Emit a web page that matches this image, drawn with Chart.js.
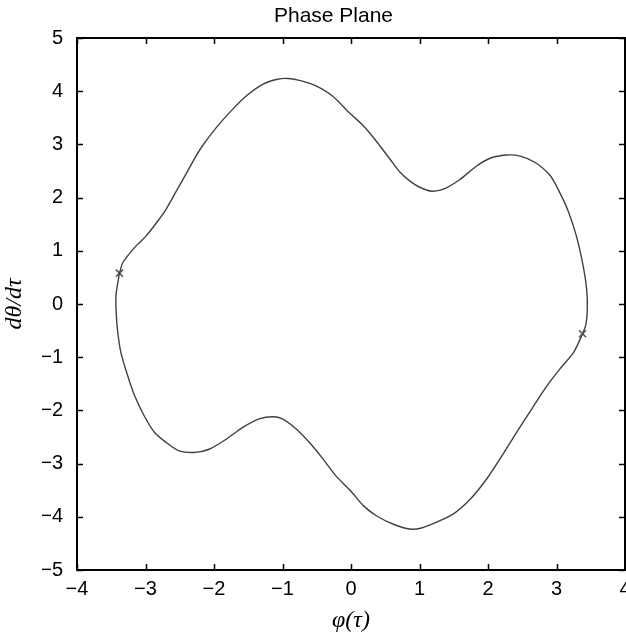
<!DOCTYPE html>
<html><head><meta charset="utf-8">
<script src="https://cdn.jsdelivr.net/npm/chart.js@4.4.0/dist/chart.umd.min.js"></script>
<style>html,body{margin:0;padding:0;background:#fff;}#wrap{width:626px;height:638px;}</style>
</head><body><div id="wrap"><canvas id="c" width="626" height="638"></canvas></div>
<script>
const chartTitle = 'Phase Plane';
const xAxisTitle = 'φ(τ)';
const yAxisTitle = 'dθ/dτ';
const xTicks = [-4, -3, -2, -1, 0, 1, 2, 3, 4];
const yTicks = [-5, -4, -3, -2, -1, 0, 1, 2, 3, 4, 5];
const phi = [-3.38, -3.33, -3.16, -2.99, -2.82, -2.70, -2.55, -2.41, -2.29, -2.17, -1.97, -1.75, -1.53, -1.29, -1.09, -0.92, -0.71, -0.51, -0.27, -0.02,
  0.18, 0.37, 0.57, 0.72, 0.86, 1.01, 1.18, 1.37, 1.59, 1.83, 2.03, 2.27, 2.47, 2.69, 2.91, 3.05, 3.17, 3.29, 3.39, 3.44, 3.45, 3.43,
  3.38, 3.25, 3.05, 2.86, 2.64, 2.42, 2.22, 1.98, 1.74, 1.49, 1.25, 1.03, 0.86, 0.62, 0.37, 0.18, 0.00, -0.22, -0.41, -0.61, -0.80, -1.00,
  -1.14, -1.34, -1.58, -1.82, -2.07, -2.29, -2.51, -2.70, -2.87, -3.02, -3.16, -3.26, -3.36, -3.41, -3.43, -3.43, -3.38];
const dtheta = [0.58, 0.78, 1.06, 1.28, 1.56, 1.78, 2.12, 2.44, 2.72, 2.97, 3.31, 3.63, 3.91, 4.13, 4.22, 4.24, 4.19, 4.10, 3.91, 3.59,
  3.35, 3.06, 2.72, 2.47, 2.31, 2.19, 2.12, 2.17, 2.34, 2.59, 2.74, 2.80, 2.78, 2.66, 2.41, 2.09, 1.75, 1.28, 0.71, 0.28, -0.09, -0.38,
  -0.56, -0.91, -1.22, -1.54, -1.97, -2.41, -2.82, -3.29, -3.67, -3.95, -4.10, -4.21, -4.23, -4.14, -3.98, -3.79, -3.52, -3.23, -2.91, -2.60, -2.35, -2.16,
  -2.12, -2.16, -2.32, -2.54, -2.73, -2.79, -2.76, -2.60, -2.41, -2.10, -1.72, -1.35, -0.91, -0.47, -0.09, 0.18, 0.58];
const markerPhi = [-3.38, 3.38];
const markerDtheta = [0.58, -0.56];

const fmt = v => String(v).replace('-', '\u2212');
const sans = "'Liberation Sans', Arial, sans-serif";
const serif = "'Liberation Serif', 'DejaVu Serif', serif";
const tickFont = {family: sans, size: 20};

const framePlugin = {
  id: 'frame',
  afterDatasetsDraw(chart) {
    const {ctx, chartArea: a, scales: {x, y}} = chart;
    ctx.save();
    ctx.strokeStyle = '#000';
    ctx.lineWidth = 1.5;
    const L = 6;
    ctx.beginPath();
    x.ticks.forEach(t => {
      const p = Math.round(x.getPixelForValue(t.value)) + 0.5;
      ctx.moveTo(p, a.bottom); ctx.lineTo(p, a.bottom - L);
      ctx.moveTo(p, a.top); ctx.lineTo(p, a.top + L);
    });
    y.ticks.forEach(t => {
      const p = Math.round(y.getPixelForValue(t.value)) + 0.5;
      ctx.moveTo(a.left, p); ctx.lineTo(a.left + L, p);
      ctx.moveTo(a.right, p); ctx.lineTo(a.right - L, p);
    });
    ctx.stroke();
    ctx.lineWidth = 2;
    ctx.strokeRect(a.left, a.top, a.right - a.left, a.bottom - a.top);
    ctx.restore();
  }
};

new Chart(document.getElementById('c'), {
  type: 'scatter',
  data: {
    datasets: [
      {
        data: phi.map((v, i) => ({x: v, y: dtheta[i]})),
        showLine: true, fill: false, pointRadius: 0, borderColor: '#404040', borderWidth: 1.4, tension: 0.25
      },
      {
        data: markerPhi.map((v, i) => ({x: v, y: markerDtheta[i]})),
        showLine: false, pointStyle: 'crossRot', pointRadius: 5, borderColor: '#555', borderWidth: 1.5
      }
    ]
  },
  options: {
    responsive: false, animation: false, devicePixelRatio: 1,
    layout: {autoPadding: false, padding: {left: 42, right: 1, top: 0, bottom: 0}},
    plugins: {
      legend: {display: false}, tooltip: {enabled: false},
      title: {display: true, text: chartTitle, color: '#000',
        font: {family: sans, size: 21, weight: 'normal'},
        padding: {top: 4, bottom: 8.8}}
    },
    scales: {
      x: {
        type: 'linear', min: -4, max: 4,
        afterBuildTicks: s => { s.ticks = xTicks.map(v => ({value: v})); },
        afterFit: s => { s.height = 68; s.paddingLeft = 0; s.paddingRight = 0; },
        grid: {display: false, drawTicks: false},
        border: {display: false},
        ticks: {color: '#000', font: tickFont, padding: 7, maxRotation: 0, callback: v => fmt(v)},
        title: {display: true, text: xAxisTitle, color: '#000',
          font: {family: serif, size: 24, style: 'italic'},
          padding: {top: 0, bottom: 3}}
      },
      y: {
        type: 'linear', min: -5, max: 5,
        afterBuildTicks: s => { s.ticks = yTicks.map(v => ({value: v})); },
        afterFit: s => { s.width = 35; s.paddingTop = 0; s.paddingBottom = 0; },
        grid: {display: false, drawTicks: false},
        border: {display: false},
        ticks: {color: '#000', font: tickFont, padding: 14, callback: v => fmt(v)},
        title: {display: true, text: yAxisTitle, color: '#000',
          font: {family: serif, size: 24, style: 'italic'},
          padding: {top: -41.5, bottom: 0}}
      }
    }
  },
  plugins: [framePlugin]
});
</script></body></html>
